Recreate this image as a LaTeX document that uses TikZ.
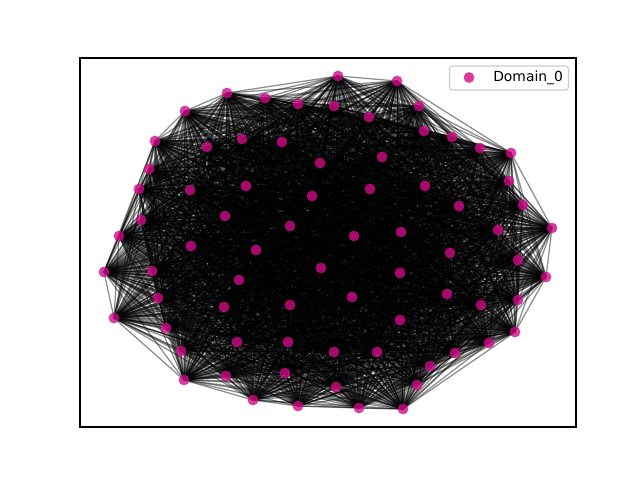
\documentclass[tikz,border=0pt]{standalone}
\usepackage{fontspec}
\setmainfont{DejaVu Sans}
\definecolor{dotc}{HTML}{D00C88}
\definecolor{legedge}{HTML}{CCCCCC}
\begin{document}
\begin{tikzpicture}[x=0.72pt,y=-0.72pt,
  edge/.style={draw=black,opacity=0.45,line width=0.9pt},
  dot/.style={circle,fill=dotc,fill opacity=0.8,draw=none,minimum size=7.8pt,inner sep=0pt},
  frame/.style={draw=black,line width=0.8pt}]
\useasboundingbox (0,0) rectangle (640,480);
\foreach \i/\x/\y in {1/338/76,2/397/81,3/419/106,4/424/131,5/452/137,6/480/148,7/511/153,8/509/181,9/523/205,10/552/228,
11/498/230,12/459/206,13/425/186,14/450/253,15/518/260,16/546/277,17/447/294,18/518/300,19/481/305,20/515/332,
21/489/343,22/455/353,23/430/366,24/417/385,25/403/409,26/359/408,27/336/387,28/298/406,29/253/400,30/226/376,
31/285/373,32/184/380,33/181/351,34/166/328,35/114/318,36/158/298,37/152/271,38/104/272,39/119/236,40/141/220,
41/139/189,42/149/169,43/155/141,44/185/111,45/227/93,46/265/98,47/298/104,48/334/106,49/369/117,50/207/147,
51/242/139,52/282/142,53/320/163,54/382/157,55/190/190,56/246/186,57/312/196,58/370/189,59/225/216,60/290/226,
61/354/236,62/401/232,63/191/246,64/256/250,65/321/268,66/400/273,67/239/280,68/224/307,69/290/305,70/352/297,
71/400/320,72/237/342,73/288/342,74/334/352,75/377/352}
  \coordinate (p\i) at (\x,\y);
\foreach \i in {1,...,75}{
  \foreach \j in {\i,...,75}{
    \ifnum\j>\i \draw[edge] (p\i) -- (p\j); \fi
  }
}
\foreach \i in {1,...,75}
  \node[dot] (n\i) at (p\i) {};
\coordinate (axA) at (80,58);
\coordinate (axB) at (576,427);
\draw[frame] (axA) rectangle (axB);
\coordinate (lgA) at (449.5,66);
\coordinate (lgB) at (568.5,90);
\draw[legedge,fill=white,fill opacity=0.8,rounded corners=2pt,line width=0.8pt] (lgA) rectangle (lgB);
\node[dot] (lm) at (469,77.5) {};
\node[anchor=west,inner sep=0pt,font=\fontsize{10}{12}\selectfont] (lt) at (493,77.5) {Domain\_0};
\end{tikzpicture}
\end{document}
